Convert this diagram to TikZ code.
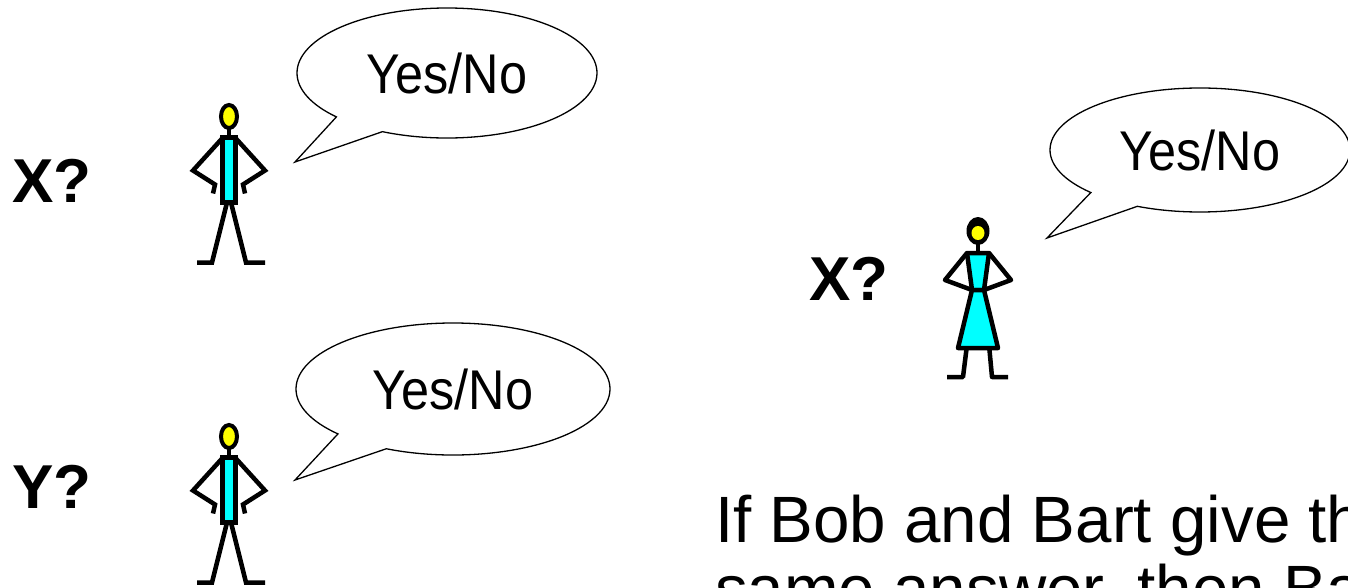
\documentclass[tikz,border=0pt]{standalone}
\usepackage{fontspec}
\setmainfont{Liberation Sans}
\newfontfamily\tallsans[FakeStretch=0.9]{Liberation Sans}
\usetikzlibrary{shapes.callouts}
\definecolor{skin}{HTML}{FFFF00}
\definecolor{cloth}{HTML}{00FFFF}
\newcommand{\drawman}[2]{
  \begin{scope}[shift={(#1,#2)}, line width=4.5pt]
    \draw (-6,21) -- (-36,54) -- (-14,68) -- (-16,77);
    \draw (6,21) -- (36,54) -- (14,68) -- (16,77);
    \draw (-2,86) -- (-17,146) -- (-32,146);
    \draw (2,86) -- (17,146) -- (36,146);
    \draw (0,12) -- (0,22);
    \filldraw[fill=cloth, line width=5pt] (-6.5,21) rectangle (6.5,85.5);
    \filldraw[fill=skin, line width=4pt] (0,0) ellipse [x radius=8, y radius=11.5];
  \end{scope}
}
\newcommand{\drawwoman}[2]{
  \begin{scope}[shift={(#1,#2)}, line width=4.5pt, line join=round]
    \draw (-11,20) -- (-33,47) -- (-6,57);
    \draw (11,20) -- (33,47) -- (6,57);
    \draw (-11,112) -- (-15,144) -- (-31,144);
    \draw (11,112) -- (14,144) -- (30,144);
    \draw (0,10) -- (0,21);
    \filldraw[fill=cloth] (-11,20) -- (11,20) -- (6,57) -- (-6,57) -- cycle;
    \filldraw[fill=cloth] (-6,57) -- (6,57) -- (20,115) -- (-20,115) -- cycle;
    \fill (0,-2) ellipse [x radius=11.5, y radius=14];
    \fill[skin] (0,0) ellipse [x radius=6.5, y radius=7];
  \end{scope}
}

\begin{document}
\begin{tikzpicture}[x=1pt, y=-1pt,
    say/.style={ellipse callout, draw, fill=white, line width=1.3pt,
      callout pointer arc=22, minimum width=300pt, minimum height=130pt,
      inner sep=0pt, font=\tallsans\fontsize{56}{66}\selectfont},
    ask/.style={anchor=base west, inner sep=0pt, font=\fontsize{62}{74}\selectfont\bfseries},
    line/.style={anchor=base west, inner sep=0pt, font=\fontsize{65.5}{78}\selectfont}]
  \useasboundingbox (0,0) rectangle (1348,588);
  \clip (0,0) rectangle (1348,588);
  \fill[white] (0,0) rectangle (1348,588);

  % two men on the left
  \node[ask] (askx) at (12,203) {X?};
  \drawman{229}{116.5}
  \node[say, callout absolute pointer={(295,162)}] (topsay) at (447,73) {Yes/No};

  \node[ask] (asky) at (12,508) {Y?};
  \drawman{229}{436.5}
  \node[say, callout absolute pointer={(295,480)}, minimum width=314pt, minimum height=132pt] (lowsay) at (453,389) {Yes/No};

  % woman on the right
  \node[ask] (askher) at (809,300) {X?};
  \drawwoman{978}{233}
  \node[say, callout absolute pointer={(1047,238)}, minimum height=124pt] (hersay) at (1200,150) {Yes/No};

  \node[line] (line1) at (715,542) {If Bob and Bart give th};
  \node[line] (line2) at (715,611) {same answer, then Ba};
\end{tikzpicture}
\end{document}
